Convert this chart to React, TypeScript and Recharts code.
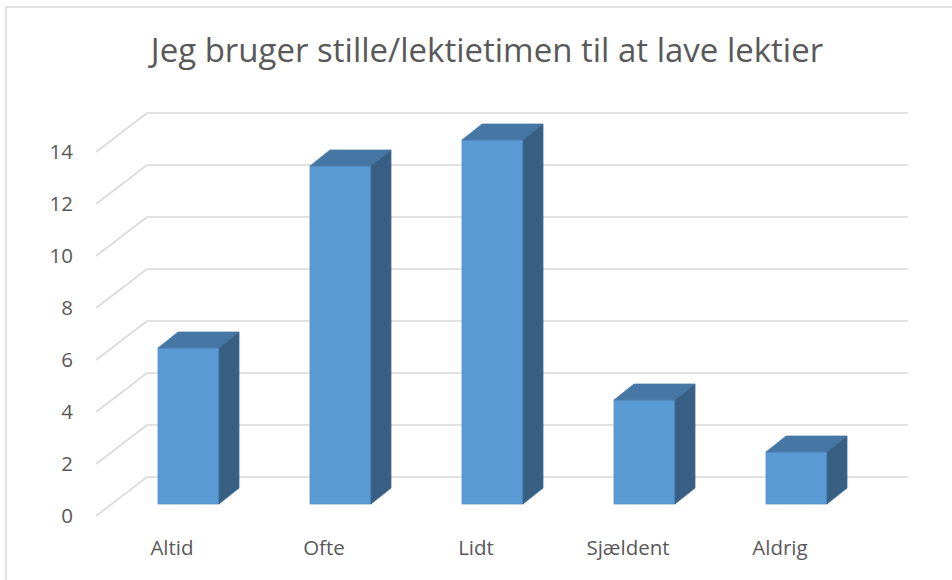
import React from "react"
import { BarChart, Bar, XAxis, YAxis, CartesianGrid } from "recharts"

const categories = ["Altid", "Ofte", "Lidt", "Sjældent", "Aldrig"]
const counts = [6, 13, 14, 4, 2]
const yTicks = [0, 2, 4, 6, 8, 10, 12, 14]

const data = categories.map((name, i) => ({ name, value: counts[i] }))

const FONT = "'Open Sans', Lato, sans-serif"
const TEXT = "#595959"
const GRID = "#d9d9d9"
// depth offsets of the 3D look
const DX = 20
const DY = 16

const Bar3D = (props: any) => {
  const { x, y, width, height } = props
  if (height == null || height <= 0) return null
  const top = `M${x},${y} L${x + DX},${y - DY} L${x + width + DX},${y - DY} L${x + width},${y} Z`
  const side = `M${x + width},${y} L${x + width + DX},${y - DY} L${x + width + DX},${y + height - DY} L${x + width},${y + height} Z`
  return (
    <g>
      <rect x={x} y={y} width={width} height={height} fill="#5b9bd5" stroke="#5a8fc2" strokeWidth={0.8} />
      <path d={top} fill="#4676a3" stroke="#4a7cab" strokeWidth={0.8} />
      <path d={side} fill="#386085" stroke="#3f6a92" strokeWidth={0.8} />
    </g>
  )
}

// grid line: slanted part on the left wall, then along the back wall
const gridLine = (p: any) => {
  const { x1, x2, y1 } = p
  const d = `M${x1 - 16},${y1 + 12} L${x1 + 35},${y1 - 27} L${x2 + 36},${y1 - 27}`
  return <path key={p.key} d={d} fill="none" stroke={GRID} strokeWidth={1.6} />
}

const YTick = (p: any) => (
  <text x={73} y={p.y + 12} dy="0.35em" textAnchor="end" fill={TEXT} fontSize={20.5} fontFamily={FONT}>
    {p.payload.value}
  </text>
)

const XTick = (p: any) => (
  <text x={p.x - 16} y={555} textAnchor="middle" fill={TEXT} fontSize={20.5} fontFamily={FONT}>
    {p.payload.value}
  </text>
)

export default function App() {
  return (
    <div style={{ position: "absolute", left: 0, top: 0, width: 952, height: 580, background: "#fff" }}>
      <svg width={952} height={580} style={{ position: "absolute", left: 0, top: 0 }}>
        <rect x={6} y={7} width={960} height={590} fill="none" stroke={GRID} strokeWidth={1.5} />
        <text x={487} y={62} textAnchor="middle" fill={TEXT} fontSize={33} fontFamily={FONT}>
          Jeg bruger stille/lektietimen til at lave lektier
        </text>
      </svg>
      <div style={{ position: "absolute", left: 0, top: 0 }}>
        <BarChart width={952} height={580} data={data} margin={{ top: 140, right: 80, left: 0, bottom: 36 }} barSize={61}>
          <CartesianGrid vertical={false} horizontal={gridLine} />
          <XAxis dataKey="name" height={40} axisLine={false} tickLine={false} tick={<XTick />} interval={0} />
          <YAxis width={112} domain={[0, 14]} ticks={yTicks} axisLine={false} tickLine={false} tick={<YTick />} interval={0} />
          <Bar dataKey="value" shape={<Bar3D />} isAnimationActive={false} />
        </BarChart>
      </div>
    </div>
  )
}
